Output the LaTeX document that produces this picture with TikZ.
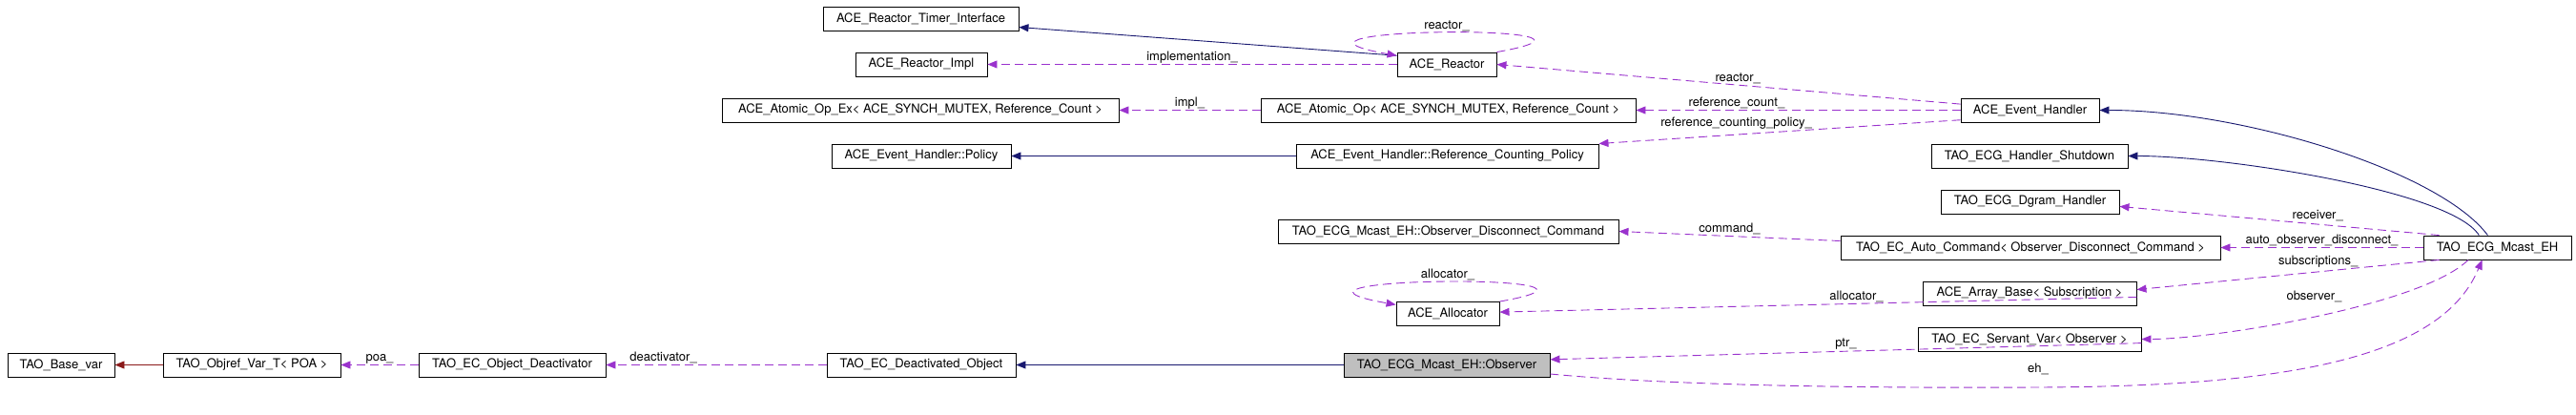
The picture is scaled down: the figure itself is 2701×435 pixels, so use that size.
\documentclass[tikz,border=0pt]{standalone}
\usepackage{fontspec}
\setmainfont{TeX Gyre Heros}
\usepackage{tikz}
\usetikzlibrary{arrows.meta}
\definecolor{edgeblue}{HTML}{191970}
\definecolor{edgeviolet}{HTML}{9A32CD}
\definecolor{edgered}{HTML}{8B1A1A}
\definecolor{boxgrey}{HTML}{BFBFBF}

\begin{document}
\begin{tikzpicture}[x=1pt,y=1pt]

                \tikzstyle{cls}  = [draw, rectangle, minimum height=25pt, inner sep=0pt, line width=0.9pt, font=\fontsize{13}{15}\selectfont]
                \tikzstyle{inh}  = [draw=edgeblue, line width=0.9pt, -{Triangle[length=10pt,width=8pt]}]
                \tikzstyle{tinh} = [draw=edgered, line width=0.9pt, -{Triangle[length=10pt,width=8pt]}]
                \tikzstyle{usg}  = [draw=edgeviolet, line width=0.9pt, dash pattern=on 9pt off 5pt, -{Triangle[length=10pt,width=8pt]}]
                \tikzstyle{lbl}  = [font=\fontsize{13}{15}\selectfont, inner sep=1pt, text=black]

                \useasboundingbox (0,0) rectangle (2701,-435);

                \node [cls, minimum width=205pt](timer) at (965.5,-19.5) {ACE\_Reactor\_Timer\_Interface};
                \node [cls, minimum width=138pt](impl) at (966,-67.5) {ACE\_Reactor\_Impl};
                \node [cls, minimum width=416pt](atomex) at (965,-115.5) {ACE\_Atomic\_Op\_Ex< ACE\_SYNCH\_MUTEX, Reference\_Count >};
                \node [cls, minimum width=188pt](policy) at (966,-163.5) {ACE\_Event\_Handler::Policy};

                \node [cls, minimum width=104pt](reactor) at (1517,-67.5) {ACE\_Reactor};
                \node [cls, minimum width=393pt](atomop) at (1518.5,-115.5) {ACE\_Atomic\_Op< ACE\_SYNCH\_MUTEX, Reference\_Count >};
                \node [cls, minimum width=317pt](refpol) at (1517.5,-163.5) {ACE\_Event\_Handler::Reference\_Counting\_Policy};
                \node [cls, minimum width=357pt](odc) at (1518.5,-242.5) {TAO\_ECG\_Mcast\_EH::Observer\_Disconnect\_Command};
                \node [cls, minimum width=108pt](alloc) at (1518,-329) {ACE\_Allocator};
                \node [cls, minimum width=216pt, fill=boxgrey](obs) at (1517,-382.5) {TAO\_ECG\_Mcast\_EH::Observer};

                \node [cls, minimum width=145pt](evh) at (2128.5,-115.5) {ACE\_Event\_Handler};
                \node [cls, minimum width=206pt](shut) at (2128,-163.5) {TAO\_ECG\_Handler\_Shutdown};
                \node [cls, minimum width=187pt](dgram) at (2128.5,-211.5) {TAO\_ECG\_Dgram\_Handler};
                \node [cls, minimum width=398pt](autocmd) at (2129,-259.5) {TAO\_EC\_Auto\_Command< Observer\_Disconnect\_Command >};
                \node [cls, minimum width=224pt](arr) at (2128,-307.5) {ACE\_Array\_Base< Subscription >};
                \node [cls, minimum width=234pt](servant) at (2128,-355.5) {TAO\_EC\_Servant\_Var< Observer >};

                \node [cls, minimum width=155pt](mcast) at (2618.5,-259.5) {TAO\_ECG\_Mcast\_EH};

                \node [cls, minimum width=198pt](deactobj) at (966,-382.5) {TAO\_EC\_Deactivated\_Object};
                \node [cls, minimum width=196pt](objdeact) at (537,-382.5) {TAO\_EC\_Object\_Deactivator};
                \node [cls, minimum width=186pt](objref) at (264,-382.5) {TAO\_Objref\_Var\_T< POA >};
                \node [cls, minimum width=112pt](basevar) at (64,-382.5) {TAO\_Base\_var};

                \draw [inh] (reactor.170) -- (timer.-5);
                \draw [inh] (refpol) -- (policy);
                \draw [inh] (mcast.128) .. controls +(-50,67) and +(150,0) .. (evh.east);
                \draw [inh] (mcast.146) .. controls +(-30,47) and +(100,0) .. (shut.east);
                \draw [inh] (obs) -- (deactobj);
                \draw [tinh] (objref) -- (basevar);

                \draw [usg] (reactor) -- node[lbl, above] {implementation\_} (impl);
                \draw [usg] (reactor.north east) .. controls +(170,30) and +(-170,30) .. (reactor.170) node[lbl, above, pos=0.5] {reactor\_};
                \draw [usg] (evh.175) -- node[lbl, above, pos=0.48] {reactor\_} (reactor.east);
                \draw [usg] (evh) -- node[lbl, above, pos=0.69] {reference\_count\_} (atomop);
                \draw [usg] (evh.188) -- node[lbl, above=4pt, pos=0.62] {reference\_counting\_policy\_} (refpol.north east);
                \draw [usg] (atomop) -- node[lbl, above] {impl\_} (atomex);

                \draw [usg] (mcast.168) -- node[lbl, above=2pt, pos=0.38] {receiver\_} (dgram.-3);
                \draw [usg] (mcast) -- node[lbl, above] {auto\_observer\_disconnect\_} (autocmd);
                \draw [usg] (autocmd.178) -- node[lbl, above] {command\_} (odc.east);
                \draw [usg] (mcast.192) -- node[lbl, above=3pt, pos=0.4] {subscriptions\_} (arr.2);
                \draw [usg] (arr.-2) -- node[lbl, above, pos=0.44] {allocator\_} (alloc.2);
                \draw [usg] (alloc.north east) .. controls +(170,30) and +(-170,30) .. (alloc.170) node[lbl, above, pos=0.5] {allocator\_};
                \draw [usg] (mcast.203) .. controls +(-49,-48) and +(75,0) .. (servant.east) node[lbl, above=14pt, pos=0.5] {observer\_};
                \draw [usg] (servant.-2) -- node[lbl, above] {ptr\_} (obs.3);
                \draw [usg] (obs.-5) .. controls (1750,-404) and (1950,-407) .. (2137,-406) node[lbl, above=12pt] {eh\_}
                        .. controls (2400,-405) and (2560,-375) .. (mcast.219);

                \draw [usg] (deactobj) -- node[lbl, above, pos=0.74] {deactivator\_} (objdeact);
                \draw [usg] (objdeact) -- node[lbl, above] {poa\_} (objref);

\end{tikzpicture}
\end{document}
